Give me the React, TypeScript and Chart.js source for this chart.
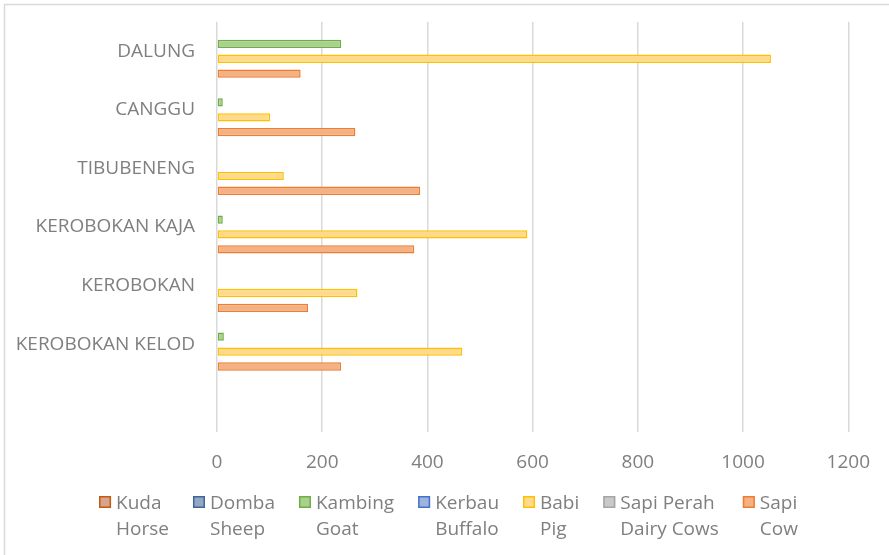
import React, { useEffect, useRef } from 'react';
import { Chart, registerables } from 'chart.js';

Chart.register(...registerables);

const categories = ['DALUNG', 'CANGGU', 'TIBUBENENG', 'KEROBOKAN KAJA', 'KEROBOKAN', 'KEROBOKAN KELOD', ''];

const kuda = [null, null, null, null, null, null, null];
const domba = [null, null, null, null, null, null, null];
const kambing = [236, 11, null, 11, null, 13, null];
const kerbau = [null, null, null, null, null, null, null];
const babi = [1053, 101, 127, 590, 267, 466, null];
const sapiPerah = [null, null, null, null, null, null, null];
const sapi = [159, 263, 386, 375, 173, 236, null];

const seriesLabels = ['Kuda\nHorse', 'Domba\nSheep', 'Kambing\nGoat', 'Kerbau\nBuffalo', 'Babi\nPig', 'Sapi Perah\nDairy Cows', 'Sapi\nCow'];
const seriesData = [kuda, domba, kambing, kerbau, babi, sapiPerah, sapi];
const fills = ['#d8a48e', '#93a6c6', '#a9d18e', '#9eb3e2', '#ffd98c', '#c9c9c9', '#f4b183'];
const strokes = ['#c55a11', '#3f6696', '#70ad47', '#4472c4', '#ffc000', '#a5a5a5', '#ed7d31'];

const xTicksMax = 1200;
const xTicksStep = 200;

const FONT = "'Open Sans', sans-serif";
const TEXT = '#7f7f7f';

export default function App() {
  const ref = useRef<HTMLCanvasElement>(null);

  useEffect(() => {
    if (!ref.current) return;

    const frame = {
      id: 'frame',
      beforeDraw(chart: any) {
        const ctx = chart.ctx;
        ctx.save();
        ctx.fillStyle = '#ffffff';
        ctx.fillRect(0, 0, chart.width, chart.height);
        ctx.strokeStyle = '#d9d9d9';
        ctx.lineWidth = 1.5;
        ctx.strokeRect(4.5, 4.5, chart.width + 20, chart.height + 20);
        ctx.restore();
      },
    };

    const legend2 = {
      id: 'legend2',
      afterDraw(chart: any) {
        const ctx = chart.ctx;
        ctx.save();
        ctx.font = `19px ${FONT}`;
        const box = 12;
        const gapBoxText = 5;
        const itemGap = 24;
        const items = chart.data.datasets.map((ds: any) => {
          const lines = String(ds.label).split('\n');
          const w = Math.max(...lines.map((l: string) => ctx.measureText(l).width));
          return { lines, w: box + gapBoxText + w, fill: ds.backgroundColor, stroke: ds.borderColor };
        });
        const total = items.reduce((s: number, it: any) => s + it.w, 0) + itemGap * (items.length - 1);
        let x = (chart.width - total) / 2 + 4;
        const base = chart.scales.x.bottom;
        const line1 = base + 32;
        const line2 = base + 58;
        ctx.textBaseline = 'alphabetic';
        ctx.textAlign = 'left';
        items.forEach((it: any) => {
          ctx.fillStyle = it.fill;
          ctx.fillRect(x, line1 - 13, box, box);
          ctx.strokeStyle = it.stroke;
          ctx.lineWidth = 1.5;
          ctx.strokeRect(x + 0.75, line1 - 13 + 0.75, box - 1.5, box - 1.5);
          ctx.fillStyle = TEXT;
          ctx.fillText(it.lines[0], x + box + gapBoxText, line1);
          if (it.lines[1]) ctx.fillText(it.lines[1], x + box + gapBoxText, line2);
          x += it.w + itemGap;
        });
        ctx.restore();
      },
    };

    const chart = new Chart(ref.current, {
      type: 'bar',
      data: {
        labels: categories,
        datasets: seriesData.map((d, i) => ({
          label: seriesLabels[i],
          data: d,
          backgroundColor: fills[i],
          borderColor: strokes[i],
          borderWidth: 1.5,
          borderSkipped: false,
          categoryPercentage: 0.89,
          barPercentage: 1.12,
        })),
      },
      options: {
        indexAxis: 'y',
        animation: false,
        responsive: true,
        maintainAspectRatio: false,
        layout: { padding: { top: 22, right: 38, bottom: 78, left: 0 } },
        plugins: {
          legend: { display: false },
          tooltip: { enabled: false },
        },
        scales: {
          x: {
            min: 0,
            max: xTicksMax,
            afterFit: (scale: any) => {
              scale.height = 45;
            },
            ticks: {
              stepSize: xTicksStep,
              padding: 19,
              color: TEXT,
              font: { family: FONT, size: 19 },
              callback: (v: any) => String(v),
            },
            grid: { color: '#d9d9d9', lineWidth: 1.5, drawTicks: false },
            border: { display: false },
          },
          y: {
            afterFit: (scale: any) => {
              scale.width = 217;
              scale.paddingTop = 0;
              scale.paddingBottom = 0;
            },
            ticks: {
              padding: 22,
              color: TEXT,
              font: { family: FONT, size: 19 },
            },
            grid: { display: false, drawTicks: false },
            border: { display: false },
          },
        },
      },
      plugins: [frame, legend2],
    });

    return () => chart.destroy();
  }, []);

  return (
    <div style={{ position: 'absolute', left: 0, top: 0, width: 889, height: 555 }}>
      <canvas ref={ref} />
    </div>
  );
}
